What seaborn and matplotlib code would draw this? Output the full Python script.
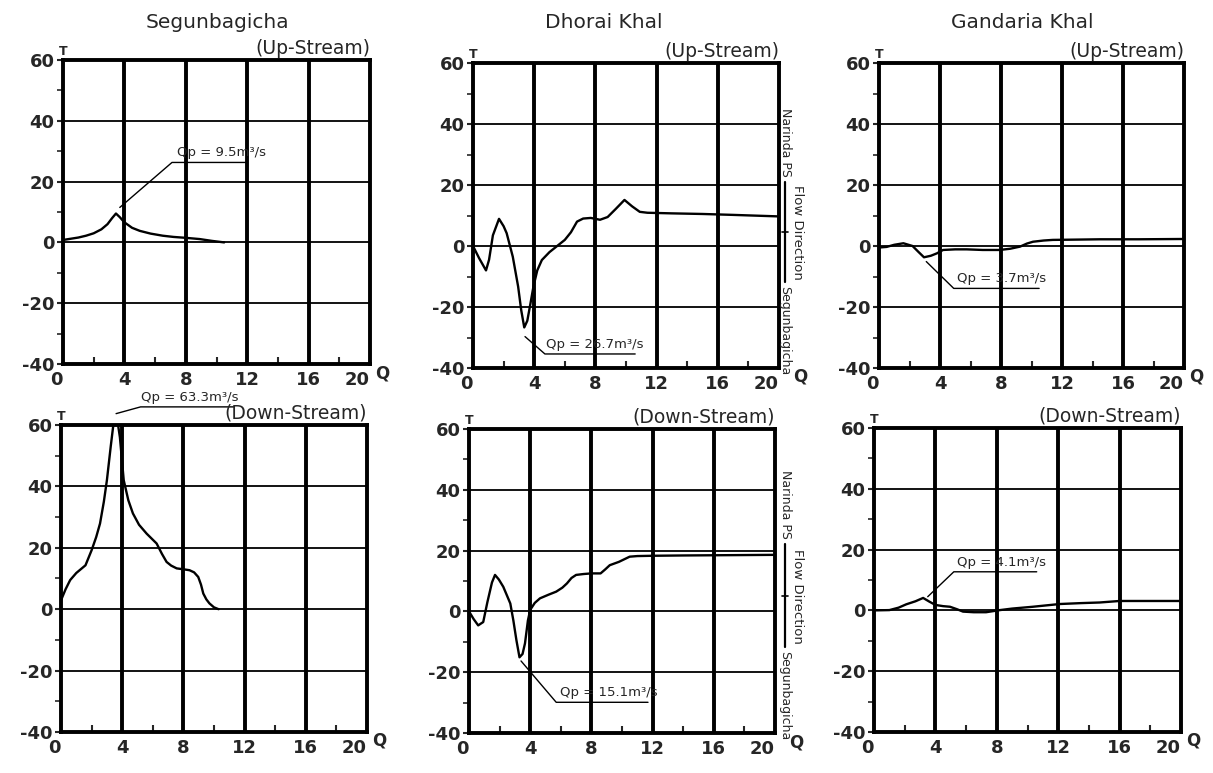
import matplotlib
matplotlib.use("Agg")
import matplotlib.pyplot as plt
from matplotlib.lines import Line2D
from matplotlib.ticker import MultipleLocator
import seaborn as sns

sns.set_style("ticks")
plt.rcParams["font.family"] = ["DejaVu Sans"]
plt.rcParams["axes.unicode_minus"] = False

# ---- hydrograph data (Q on x, T on y) ----
seg_up_x = [0, 0.5, 1.0, 1.5, 2.0, 2.5, 2.9, 3.2, 3.45, 3.7, 4.0, 4.5, 5.0, 5.7, 6.5, 7.2, 8.0, 8.9, 9.7, 10.5]
seg_up_y = [0.8, 1.2, 1.6, 2.2, 3.0, 4.3, 6.0, 8.0, 9.5, 8.3, 6.6, 4.8, 3.8, 2.9, 2.2, 1.8, 1.5, 1.1, 0.5, 0.0]

dho_up_x = [0, 0.4, 0.85, 1.05, 1.3, 1.7, 2.0, 2.2, 2.6, 2.95, 3.15, 3.35, 3.55, 3.75, 3.95, 4.2, 4.5,
            5.0, 5.5, 6.0, 6.4, 6.8, 7.2, 7.7, 8.3, 8.8, 9.3, 9.9, 10.4, 10.9, 11.4, 13.0, 15.0, 17.0, 20.0]
dho_up_y = [0, -4.0, -8.0, -4.5, 3.5, 8.9, 6.5, 4.2, -3.5, -13.3, -21.0, -26.7, -24.5, -19.0, -13.3, -8.0, -4.6,
            -2.0, 0.0, 2.0, 4.5, 8.0, 9.0, 9.2, 8.6, 9.5, 12.0, 15.1, 13.0, 11.2, 10.9, 10.7, 10.5, 10.2, 9.7]

gan_up_x = [0, 0.5, 1.0, 1.6, 2.2, 2.6, 2.95, 3.4, 3.8, 4.2, 5.0, 5.75, 6.8, 7.9, 8.6, 9.25, 9.7, 10.1,
            10.8, 11.4, 13.0, 14.5, 17.0, 20.0]
gan_up_y = [-0.5, -0.3, 0.4, 0.9, 0.0, -2.0, -3.7, -3.2, -2.4, -1.3, -1.1, -1.1, -1.3, -1.3, -0.9, -0.2, 0.8, 1.4,
            1.8, 2.0, 2.1, 2.2, 2.2, 2.3]

seg_dn_x = [0, 0.3, 0.6, 1.0, 1.6, 2.0, 2.3, 2.55, 2.8, 3.0, 3.25, 3.5, 3.7, 3.85, 4.1, 4.4, 4.7, 5.1, 5.6,
            6.25, 6.6, 6.9, 7.2, 7.56, 8.0, 8.4, 8.7, 8.97, 9.15, 9.3, 9.5, 9.7, 10.0, 10.3]
seg_dn_y = [2.9, 6.5, 9.5, 11.8, 14.3, 19.2, 23.5, 27.9, 35.0, 42.0, 53.0, 63.3, 61.0, 56.0, 42.0, 35.5, 31.2,
            27.5, 24.6, 21.4, 18.0, 15.4, 14.2, 13.3, 13.0, 12.7, 12.0, 10.5, 8.0, 5.1, 3.2, 1.9, 0.6, 0.0]

dho_dn_x = [0, 0.3, 0.6, 0.93, 1.2, 1.5, 1.7, 1.95, 2.24, 2.5, 2.7, 2.9, 3.1, 3.3, 3.5, 3.66, 3.85, 4.0,
            4.3, 4.64, 5.2, 5.7, 6.1, 6.4, 6.7, 7.0, 7.5, 8.0, 8.6, 8.9, 9.2, 9.8, 10.5, 11.0, 12.0, 14.0, 17.0, 20.0]
dho_dn_y = [0, -2.5, -4.6, -3.5, 3.0, 9.5, 12.0, 10.5, 8.1, 5.0, 2.6, -3.0, -9.5, -15.1, -14.0, -10.5, -3.0, 0.5,
            2.8, 4.3, 5.5, 6.5, 7.8, 9.2, 11.0, 12.0, 12.3, 12.5, 12.5, 13.8, 15.2, 16.3, 18.0, 18.2, 18.3, 18.4,
            18.5, 18.6]

gan_dn_x = [0, 1.0, 1.6, 2.1, 2.7, 3.2, 3.6, 4.0, 4.5, 4.95, 5.4, 5.8, 6.5, 7.3, 8.2, 9.0, 10.35, 12.1, 13.5,
            14.7, 16.0, 18.0, 20.0]
gan_dn_y = [0, 0.1, 0.9, 2.0, 3.0, 4.1, 2.9, 1.8, 1.4, 1.2, 0.4, -0.4, -0.6, -0.6, 0.1, 0.6, 1.2, 2.1, 2.4,
            2.6, 3.1, 3.1, 3.1]

stations = ["Segunbagicha", "Dhorai Khal", "Gandaria Khal"]
reaches = ["(Up-Stream)", "(Down-Stream)"]
peak_labels = [["Qp = 9.5m³/s", "Qp = 26.7m³/s", "Qp = 3.7m³/s"],
               ["Qp = 63.3m³/s", "Qp = 15.1m³/s", "Qp = 4.1m³/s"]]
x_ticks = [0, 4, 8, 12, 16, 20]
y_ticks = [-40, -20, 0, 20, 40, 60]

series = [[(seg_up_x, seg_up_y), (dho_up_x, dho_up_y), (gan_up_x, gan_up_y)],
          [(seg_dn_x, seg_dn_y), (dho_dn_x, dho_dn_y), (gan_dn_x, gan_dn_y)]]

# leader lines for peak labels: (start, elbow, end) in data units
leaders = [[[(3.7, 11.5), (7.1, 26.3), (12.0, 26.3)],
            [(3.4, -29.7), (4.7, -35.4), (10.6, -35.4)],
            [(3.1, -5.1), (4.9, -13.9), (10.5, -13.9)]],
           [[(3.6, 63.7), (5.2, 65.9), (11.3, 65.9)],
            [(3.4, -16.3), (5.7, -29.9), (11.7, -29.9)],
            [(3.5, 4.5), (5.2, 12.7), (10.6, 12.7)]]]
label_x = [[7.4, 4.8, 5.1], [5.2, 5.95, 5.4]]

W, H = 1213, 773
fig = plt.figure(figsize=(W / 100, H / 100), dpi=100)

# panel boxes in pixels: left, top, right, bottom
boxes = [[(63, 60, 370, 364), (473, 63, 779, 368), (879, 63, 1184, 368)],
         [(61, 425, 367, 732), (469, 429, 775, 733), (874, 428, 1181, 732)]]
q_offset = [4, 10, 4]


def fx(px):
    return px / W


def fy(py):
    return 1 - py / H


for r in range(2):
    for c in range(3):
        l, t, rr, b = boxes[r][c]
        ax = fig.add_axes([fx(l), fy(b), (rr - l) / W, (b - t) / H])
        xs, ys = series[r][c]
        sns.lineplot(x=xs, y=ys, ax=ax, sort=False, estimator=None, color="black", lw=1.7)
        ax.set_xlim(0, 20)
        ax.set_ylim(-40, 60)
        ax.set_xticks(x_ticks)
        ax.set_yticks(y_ticks)
        ax.xaxis.set_minor_locator(MultipleLocator(2))
        ax.yaxis.set_minor_locator(MultipleLocator(10))
        xlabels = ax.set_xticklabels([str(v) for v in x_ticks], fontsize=13, fontweight="bold")
        xlabels[-1].set_horizontalalignment("right")
        xlabels[0].set_horizontalalignment("right")
        xlabels[0].set_x(0.4)
        ax.set_yticklabels([str(v) for v in y_ticks], fontsize=13, fontweight="bold")
        ax.tick_params(axis="x", which="major", direction="in", length=0, pad=5)
        ax.tick_params(axis="x", which="minor", direction="in", length=5, width=1.5)
        ax.tick_params(axis="y", which="major", direction="out", length=4, width=1.5, pad=2)
        ax.tick_params(axis="y", which="minor", direction="out", length=4, width=1.2)
        ax.grid(False)
        for v in x_ticks[1:-1]:
            ax.axvline(v, color="black", lw=2.8, zorder=1)
        for v in y_ticks[1:-1]:
            ax.axhline(v, color="black", lw=1.3, zorder=1)
        for s in ax.spines.values():
            s.set_linewidth(2.8)
            s.set_color("black")
            s.set_visible(True)
        ax.set_xlabel("")
        ax.set_ylabel("")

        ax.text(0.0, 1.005, "T", transform=ax.transAxes, ha="center", va="bottom",
                fontsize=9, fontweight="bold")
        ax.annotate("Q", xy=(1.0, 0.0), xycoords="axes fraction",
                    xytext=(q_offset[c], 0), textcoords="offset points",
                    ha="left", va="top", fontsize=12, fontweight="bold")
        ax.text(1.0, 1.008, reaches[r], transform=ax.transAxes, ha="right", va="bottom",
                fontsize=13.5)

        (x0, y0), (x1, y1), (x2, y2) = leaders[r][c]
        ax.plot([x0, x1, x2], [y0, y1, y2], color="black", lw=1.0, clip_on=False)
        ax.text(label_x[r][c], y1 + 1.0, peak_labels[r][c], ha="left", va="bottom",
                fontsize=9.5, clip_on=False)

# station titles
title_pos = [(217, 22), (604, 22), (1022, 22)]
for name, (px, py) in zip(stations, title_pos):
    fig.text(fx(px), fy(py), name, ha="center", va="center", fontsize=14.5)

# flow direction legend between the middle and right columns
for (n_top, line_a, tick_y, line_b, s_top) in [(108, 182, 232, 282, 286),
                                               (470, 544, 596, 647, 651)]:
    fig.text(fx(785), fy(n_top), "Narinda PS", rotation=270, ha="center", va="top", fontsize=9)
    fig.add_artist(Line2D([fx(785), fx(785)], [fy(line_a), fy(line_b)], color="black", lw=1.6))
    fig.add_artist(Line2D([fx(782), fx(788)], [fy(tick_y), fy(tick_y)], color="black", lw=1.2))
    fig.text(fx(785), fy(s_top), "Segunbagicha", rotation=270, ha="center", va="top", fontsize=9)
    fig.text(fx(798), fy(tick_y), "Flow Direction", rotation=270, ha="center", va="center", fontsize=9.5)

fig.savefig("out.png", dpi=100, facecolor="white")
